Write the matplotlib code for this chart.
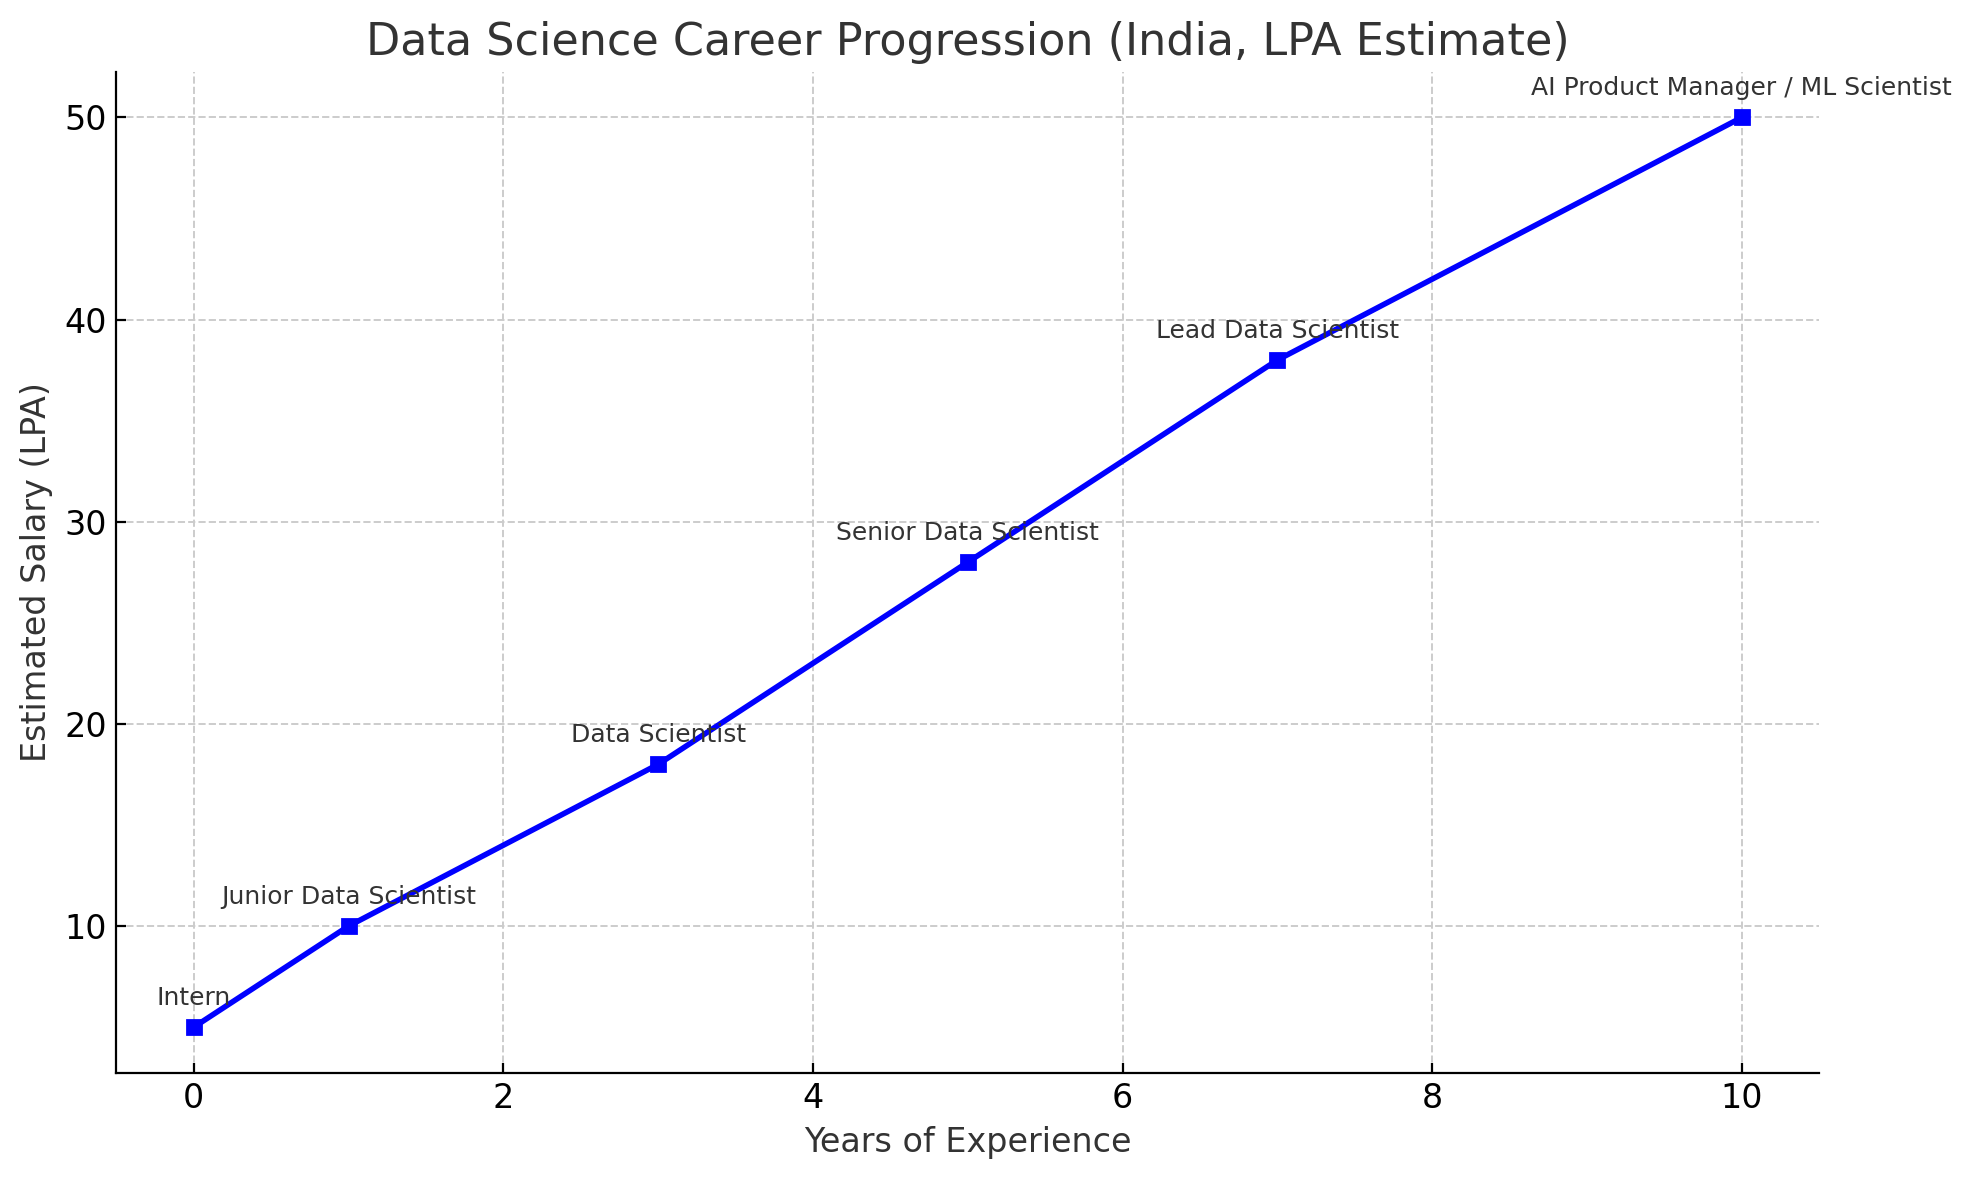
import matplotlib
matplotlib.use("Agg")
import matplotlib.pyplot as plt

years = [0, 1, 3, 5, 7, 10]
salary = [5, 10, 18, 28, 38, 50]
roles = ["Intern", "Junior Data Scientist", "Data Scientist",
         "Senior Data Scientist", "Lead Data Scientist",
         "AI Product Manager / ML Scientist"]

plt.rcParams['font.family'] = ['DejaVu Sans']
plt.rcParams['text.color'] = '#333333'
plt.rcParams['axes.labelcolor'] = '#333333'

fig, ax = plt.subplots(figsize=(9.865, 5.9), dpi=200)
fig.subplots_adjust(left=0.059, right=0.922, top=0.939, bottom=0.091)

ax.plot(years, salary, marker='s', color='blue', linewidth=2, markersize=5)
for x, y, r in zip(years, salary, roles):
    ax.annotate(r, (x, y), textcoords='offset points', xytext=(0, 8),
                ha='center', fontsize=9, color='#333333')

ax.set_title("Data Science Career Progression (India, LPA Estimate)", fontsize=16)
ax.set_xlabel("Years of Experience", fontsize=12)
ax.set_ylabel("Estimated Salary (LPA)", fontsize=12)
ax.grid(True, linestyle='--', color='#cccccc', linewidth=0.7)
ax.tick_params(direction='in', labelsize=12, pad=3.5)
ax.spines['top'].set_visible(False)
ax.spines['right'].set_visible(False)
ax.set_axisbelow(True)

plt.savefig("out.png", dpi=200)
